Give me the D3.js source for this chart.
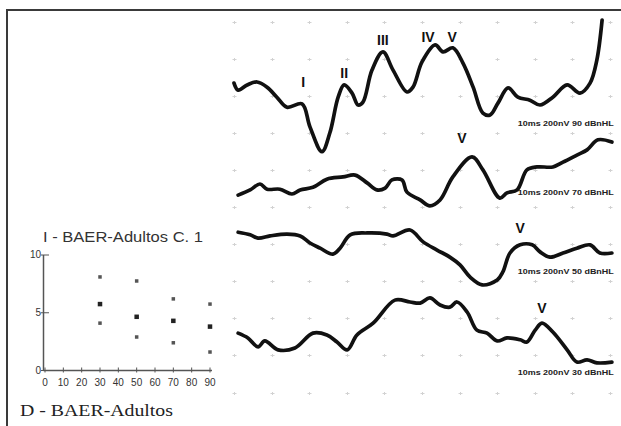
<!DOCTYPE html>
<html><head><meta charset="utf-8">
<script src="https://cdn.jsdelivr.net/npm/d3@7"></script>
<style>
html,body{margin:0;padding:0;background:#fff;}
svg{display:block;}
</style></head>
<body>
<svg id="c" width="621" height="426"></svg>
<script>
// ---------- DATA ----------
// BAER traces: time (ms) and amplitude (grid divisions, 0 = bottom grid row)
const trace90T = [0.00,0.11,0.35,0.61,0.88,1.14,1.41,1.81,2.02,2.34,2.55,2.77,2.93,3.14,3.30,3.43,3.67,3.96,4.23,4.60,4.76,5.00,5.35,5.56,5.82,6.09,6.36,6.62,6.81,7.02,7.29,7.55,7.87,8.14,8.48,8.86,9.20,9.47,9.65,9.79];
const trace90V = [8.34,8.15,8.29,8.37,8.23,7.96,7.69,7.78,7.16,6.49,7.00,7.96,8.29,8.07,7.75,7.83,8.69,9.18,8.69,8.10,8.23,8.91,9.37,9.18,9.29,8.88,8.23,7.53,7.48,7.80,8.21,7.96,7.88,7.75,7.96,8.29,8.07,8.34,8.96,10.04];
const trace70T = [0.11,0.43,0.69,0.88,1.22,1.54,1.76,2.10,2.47,2.90,3.22,3.54,3.80,4.02,4.20,4.47,4.60,4.95,5.21,5.48,5.82,6.33,6.62,7.07,7.26,7.53,7.79,8.06,8.48,8.75,9.12,9.39,9.68,10.05];
const trace70V = [5.32,5.46,5.62,5.48,5.48,5.35,5.46,5.53,5.75,5.81,5.86,5.65,5.46,5.51,5.73,5.73,5.40,5.19,5.03,5.19,5.81,6.35,6.00,5.24,5.38,5.46,6.00,6.08,6.08,6.21,6.40,6.54,6.81,6.75];
const trace50T = [0.11,0.43,0.64,0.96,1.41,1.76,2.02,2.29,2.63,2.82,3.09,3.54,4.07,4.23,4.68,5.03,5.40,5.74,6.01,6.28,6.60,7.00,7.15,7.34,7.61,7.93,8.14,8.40,8.75,9.12,9.47,9.73,10.05];
const trace50V = [4.32,4.25,4.16,4.22,4.27,4.22,4.03,3.89,3.73,3.89,4.25,4.30,4.27,4.22,4.38,4.06,3.84,3.65,3.44,3.11,2.90,3.03,3.25,3.76,3.98,3.98,3.79,3.65,3.76,3.89,3.98,3.76,3.76];
const trace30T = [0.11,0.37,0.64,0.82,1.17,1.62,2.10,2.47,2.74,3.01,3.27,3.70,4.28,4.68,4.95,5.21,5.48,5.74,5.93,6.20,6.46,6.73,7.00,7.26,7.61,7.79,8.01,8.19,8.48,8.86,9.12,9.39,9.65,10.05];
const trace30V = [1.60,1.47,1.23,1.39,1.15,1.20,1.60,1.55,1.36,1.15,1.55,1.87,2.49,2.44,2.41,2.55,2.36,2.30,2.44,2.17,1.68,1.60,1.39,1.47,1.42,1.36,1.68,1.87,1.63,1.15,0.82,0.88,0.80,0.82];

const traceNames = ["10ms 200nV 90 dBnHL","10ms 200nV 70 dBnHL","10ms 200nV 50 dBnHL","10ms 200nV 30 dBnHL"];
const traceNameV = [7.17, 5.32, 3.20, 0.46];   // baseline of setting label (divisions)

// Peak labels
const peakText = ["I","II","III","IV","V","V","V","V"];
const peakT    = [1.84,2.93,3.96,5.16,5.80,6.06,7.61,8.19];
const peakV    = [8.23,8.48,9.37,9.45,9.45,6.72,4.30,2.14];

// Scatter inset
const scatterX    = [30,50,70,90];
const scatterHigh = [8.1,7.75,6.2,5.75];
const scatterMid  = [5.75,4.65,4.3,3.8];
const scatterLow  = [4.1,2.9,2.4,1.6];
const scatterXTicks = [0,10,20,30,40,50,60,70,80,90];
const scatterYTicks = [0,5,10];

// Grid
const gridT = d3.range(0, 11, 1);
const gridV = d3.range(0, 11, 1);

// ---------- DRAW ----------
const svg = d3.select("#c");

// frame
svg.append("line").attr("x1",7).attr("x2",621).attr("y1",10).attr("y2",10)
  .attr("stroke","#3a3a3a").attr("stroke-width",2);
svg.append("line").attr("x1",7).attr("x2",7).attr("y1",9).attr("y2",426)
  .attr("stroke","#3a3a3a").attr("stroke-width",2);

const tx = d3.scaleLinear().domain([0,10]).range([234,610]);
const vy = d3.scaleLinear().domain([0,10]).range([392.5,21.5]);

// grid crosses
const gg = svg.append("g").attr("stroke","#d2d2d2").attr("stroke-width",1);
gridT.forEach(t => gridV.forEach(v => {
  const x = Math.round(tx(t))+0.5, y = Math.round(vy(v))+0.5;
  gg.append("line").attr("x1",x-2).attr("x2",x+2).attr("y1",y).attr("y2",y);
  gg.append("line").attr("x1",x).attr("x2",x).attr("y1",y-1.5).attr("y2",y+1.5);
}));

// setting labels
svg.append("g").selectAll("text").data(traceNames).join("text")
  .attr("x", tx(10.1)).attr("y",(d,i)=>vy(traceNameV[i]))
  .attr("text-anchor","end")
  .attr("font-family","Liberation Sans, Arial, sans-serif")
  .attr("font-size",7).attr("font-weight","bold").attr("fill","#222")
  .attr("textLength",96).attr("lengthAdjust","spacingAndGlyphs")
  .text(d=>d);

// traces
const traces = [[trace90T,trace90V],[trace70T,trace70V],[trace50T,trace50V],[trace30T,trace30V]];
const line = d3.line().x(d=>tx(d[0])).y(d=>vy(d[1])).curve(d3.curveCatmullRom.alpha(0.5));
traces.forEach(([T,V]) => {
  svg.append("path").datum(T.map((t,i)=>[t,V[i]]))
    .attr("d", line).attr("fill","none").attr("stroke","#111")
    .attr("stroke-width",3.7).attr("stroke-linejoin","round").attr("stroke-linecap","round");
});

// peak labels
svg.append("g").selectAll("text").data(peakText).join("text")
  .attr("x",(d,i)=>tx(peakT[i])).attr("y",(d,i)=>vy(peakV[i]))
  .attr("text-anchor","middle")
  .attr("font-family","Liberation Sans, Arial, sans-serif")
  .attr("font-size",14).attr("font-weight","bold").attr("fill","#111")
  .text(d=>d);

// ---------- scatter inset ----------
const sx = d3.scaleLinear().domain([0,90]).range([45,210]);
const sy = d3.scaleLinear().domain([0,10]).range([370.5,255]);

svg.append("text").attr("x",43).attr("y",242)
  .attr("font-family","Liberation Sans, Arial, sans-serif")
  .attr("font-size",14.5).attr("fill","#333")
  .attr("textLength",160).attr("lengthAdjust","spacingAndGlyphs")
  .text("I - BAER-Adultos C. 1");

const ax = svg.append("g").attr("stroke","#555").attr("stroke-width",1.5);
ax.append("line").attr("x1",sx(0)-1.5).attr("x2",sx(90)+2).attr("y1",sy(0)).attr("y2",sy(0));
ax.append("line").attr("x1",sx(0)-1.5).attr("x2",sx(0)-1.5).attr("y1",sy(0)).attr("y2",sy(10));
scatterXTicks.forEach(v => ax.append("line").attr("stroke-width",1)
  .attr("x1",sx(v)).attr("x2",sx(v)).attr("y1",sy(0)-3).attr("y2",sy(0)+2));
scatterYTicks.forEach(v => ax.append("line").attr("stroke-width",1)
  .attr("x1",sx(0)-4).attr("x2",sx(0)+4).attr("y1",sy(v)).attr("y2",sy(v)));

svg.append("g").selectAll("text").data(scatterXTicks).join("text")
  .attr("x",d=>sx(d)).attr("y",sy(0)+15)
  .attr("text-anchor","middle")
  .attr("font-family","Liberation Sans Narrow, Liberation Sans, Arial, sans-serif")
  .attr("font-size",10).attr("fill","#333").text(d=>d);
svg.append("g").selectAll("text").data(scatterYTicks).join("text")
  .attr("x",sx(0)-4).attr("y",d=>sy(d)+3)
  .attr("text-anchor","end")
  .attr("font-family","Liberation Sans Narrow, Liberation Sans, Arial, sans-serif")
  .attr("font-size",10).attr("fill","#333").text(d=>d);

[[scatterHigh,"#555",3.5],[scatterMid,"#222",4.5],[scatterLow,"#555",3.5]].forEach(([vals,col,s]) => {
  svg.append("g").selectAll("rect").data(scatterX).join("rect")
    .attr("x",(d)=>sx(d)-s/2).attr("y",(d,i)=>sy(vals[i])-s/2)
    .attr("width",s).attr("height",s).attr("fill",col);
});

svg.append("text").attr("x",20).attr("y",416)
  .attr("font-family","Liberation Serif, Times New Roman, serif")
  .attr("font-size",16).attr("fill","#222")
  .attr("textLength",153).attr("lengthAdjust","spacingAndGlyphs")
  .text("D  - BAER-Adultos");
</script>
</body></html>
